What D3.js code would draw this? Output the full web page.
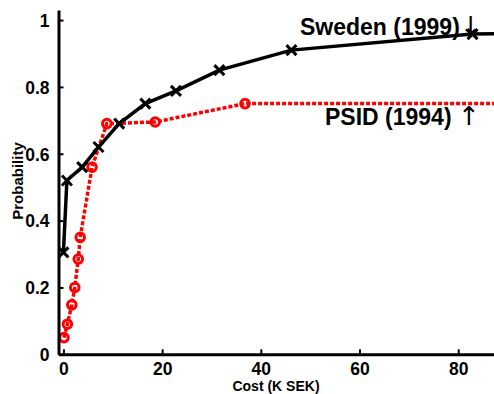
<!DOCTYPE html>
<html>
<head>
<meta charset="utf-8">
<script src="https://cdn.jsdelivr.net/npm/d3@7"></script>
<style>
  html, body { margin: 0; padding: 0; background: #fff; }
  svg { display: block; font-family: "Liberation Sans", Arial, sans-serif; }
</style>
</head>
<body>
<div id="chart"></div>
<script>
// Sweden (1999) survey, black solid line with x markers
var swedenCost = [0, 0.7, 3.8, 7.1, 11.3, 16.6, 22.8, 31.6, 46.2, 82.9, 95];
var swedenProb = [0.305, 0.52, 0.56, 0.62, 0.69, 0.75, 0.788, 0.85, 0.91, 0.958, 0.96];

// PSID (1994), red dotted line with circle markers
var psidCost = [0.1, 0.8, 1.7, 2.3, 3.0, 3.4, 5.8, 8.8, 18.6, 36.8, 95];
var psidProb = [0.05, 0.09, 0.148, 0.2, 0.285, 0.35, 0.56, 0.69, 0.695, 0.75, 0.75];

var xTicks = [0, 20, 40, 60, 80];
var yTicks = [0, 0.2, 0.4, 0.6, 0.8, 1];

var width = 494, height = 394;

var svg = d3.select('#chart')
  .append('svg')
  .attr('width', width)
  .attr('height', height);

var x = d3.scaleLinear().domain([-1, 87.25]).range([58.5, 494]);
var y = d3.scaleLinear().domain([0, 1.03]).range([354.3, 10]);

svg.append('clipPath').attr('id', 'plotclip')
  .append('rect')
  .attr('x', 58.5).attr('y', 0)
  .attr('width', width - 58.5).attr('height', 354.3);

var sweden = swedenCost.map(function (c, i) { return [c, swedenProb[i]]; });
var psid = psidCost.map(function (c, i) { return [c, psidProb[i]]; });

var line = d3.line()
  .x(function (d) { return x(d[0]); })
  .y(function (d) { return y(d[1]); });

var plot = svg.append('g').attr('clip-path', 'url(#plotclip)');

// red dotted series
plot.append('path')
  .datum(psid)
  .attr('d', line)
  .attr('fill', 'none')
  .attr('stroke', '#ff0000')
  .attr('stroke-width', 3.5)
  .attr('stroke-dasharray', '4,2');

plot.selectAll('circle.psid')
  .data(psid)
  .enter()
  .append('circle')
  .attr('class', 'psid')
  .attr('cx', function (d) { return x(d[0]); })
  .attr('cy', function (d) { return y(d[1]); })
  .attr('r', 4.3)
  .attr('fill', 'none')
  .attr('stroke', '#ff0000')
  .attr('stroke-width', 3);

// black solid series
plot.append('path')
  .datum(sweden)
  .attr('d', line)
  .attr('fill', 'none')
  .attr('stroke', '#000')
  .attr('stroke-width', 3.5);

var s = 5;
plot.selectAll('path.cross')
  .data(sweden)
  .enter()
  .append('path')
  .attr('class', 'cross')
  .attr('d', function (d) {
    var cx = x(d[0]), cy = y(d[1]);
    return 'M' + (cx - s) + ',' + (cy - s) + 'L' + (cx + s) + ',' + (cy + s) +
      'M' + (cx - s) + ',' + (cy + s) + 'L' + (cx + s) + ',' + (cy - s);
  })
  .attr('stroke', '#000')
  .attr('stroke-width', 3)
  .attr('fill', 'none');

// axes
var xAxis = d3.axisBottom(x).tickValues(xTicks).tickSizeInner(-5).tickSizeOuter(0).tickPadding(7.8)
  .tickFormat(d3.format('d'));
var yAxis = d3.axisLeft(y).tickValues(yTicks).tickSizeInner(-5).tickSizeOuter(0).tickPadding(9)
  .tickFormat(function (d) { return d === 0 || d === 1 ? d3.format('d')(d) : d3.format('.1f')(d); });

var gx = svg.append('g').attr('transform', 'translate(0,354.3)').call(xAxis);
var gy = svg.append('g').attr('transform', 'translate(58.5,0)').call(yAxis);

[gx, gy].forEach(function (g) {
  g.select('.domain').attr('stroke', '#000').attr('stroke-width', 3);
  g.selectAll('.tick line').attr('stroke', '#000').attr('stroke-width', 2);
  g.selectAll('.tick text')
    .attr('fill', '#000')
    .style('font-family', '"Liberation Sans", Arial, sans-serif')
    .style('font-weight', 'bold')
    .style('font-size', '17.5px');
});
gx.selectAll('.tick text').attr('dy', '0.71em');
gy.selectAll('.tick text').attr('dy', '0.36em');

// axis titles
svg.append('text')
  .attr('x', 276).attr('y', 390.8)
  .attr('text-anchor', 'middle')
  .style('font-weight', 'bold')
  .style('font-size', '14px')
  .text('Cost (K SEK)');

svg.append('text')
  .attr('transform', 'translate(22.5,181) rotate(-90)')
  .attr('text-anchor', 'middle')
  .style('font-weight', 'bold')
  .style('font-size', '15px')
  .text('Probability');

// series annotations
var t1 = svg.append('text')
  .attr('x', 300).attr('y', 35)
  .style('font-size', '23px');
t1.append('tspan').style('font-weight', 'bold').text('Sweden (1999)');
t1.append('tspan').style('font-family', '"DejaVu Sans", sans-serif')
  .style('font-size', '26px').text('\u2193');

var t2 = svg.append('text')
  .attr('x', 325).attr('y', 125)
  .style('font-size', '23px');
t2.append('tspan').style('font-weight', 'bold').text('PSID (1994) ');
t2.append('tspan').style('font-family', '"DejaVu Sans", sans-serif')
  .style('font-size', '26px').text('\u2191');
</script>
</body>
</html>
